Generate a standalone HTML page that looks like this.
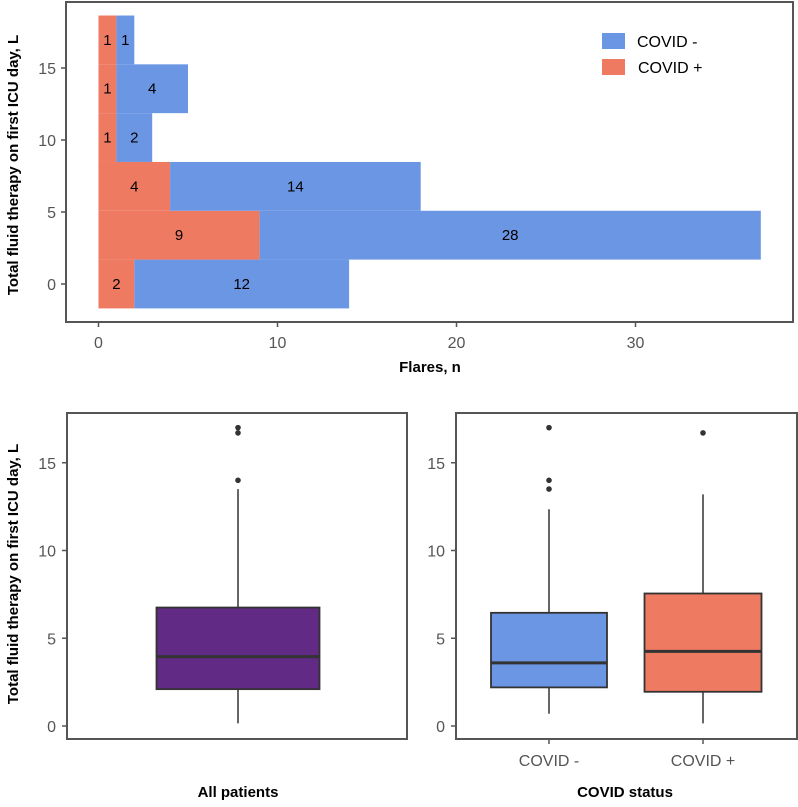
<!DOCTYPE html>
<html><head><meta charset="utf-8"><style>
body{margin:0;background:#fff}
svg text{font-family:"Liberation Sans",Arial,sans-serif}
.tk{fill:#555;font-size:16px}
.tt{fill:#000;font-size:15px;font-weight:bold}
</style></head><body>
<svg id="c" width="798" height="802" xmlns="http://www.w3.org/2000/svg"></svg>
<script>
// Top histogram data
const binCenters=[0,3.39,6.78,10.17,13.56,16.95];
const covidPos=[2,9,4,1,1,1];
const covidNeg=[12,28,14,2,4,1];
const xTicks=[0,10,20,30];
const yTicks=[0,5,10,15];
// Box plot data (min, q1, median, q3, max)
const boxGroups=["All patients","COVID -","COVID +"];
const boxMin=[0.15,0.7,0.15];
const boxQ1=[2.1,2.2,1.95];
const boxMed=[3.95,3.6,4.25];
const boxQ3=[6.75,6.45,7.55];
const boxMax=[13.5,12.35,13.2];
const outAll=[14,16.7,17];
const outNeg=[13.5,14,17];
const outPos=[16.7];

const svg=document.getElementById('c');
const NS='http://www.w3.org/2000/svg';
function mk(tag,attrs,parent){const e=document.createElementNS(NS,tag);for(const k in attrs)e.setAttribute(k,attrs[k]);(parent||svg).appendChild(e);return e;}
function txt(s,attrs){const e=mk('text',attrs);e.textContent=s;return e;}

// ---- top panel ----
const tx=v=>98.5+v*17.9, ty=v=>284-v*14.4, binH=3.39*14.4;
binCenters.forEach((c,i)=>{
  const y0=ty(c)-binH/2;
  let r=mk('rect',{x:tx(0),y:y0,width:tx(covidPos[i])-tx(0),height:binH,fill:'#ef7a62'});
  
  
  let b=mk('rect',{x:tx(covidPos[i]),y:y0,width:tx(covidPos[i]+covidNeg[i])-tx(covidPos[i]),height:binH,fill:'#6b96e4'});
  
  
  let l1=txt(covidPos[i],{x:(tx(0)+tx(covidPos[i]))/2,y:ty(c)+5,'text-anchor':'middle','font-size':'15',fill:'#000'});
  
  
  let l2=txt(covidNeg[i],{x:(tx(covidPos[i])+tx(covidPos[i]+covidNeg[i]))/2,y:ty(c)+5,'text-anchor':'middle','font-size':'15',fill:'#000'});
  
  
});
let f1=mk('rect',{x:66,y:2,width:727,height:320,fill:'none',stroke:'#555','stroke-width':2});


xTicks.forEach(v=>{
  mk('line',{x1:tx(v),x2:tx(v),y1:322,y2:327,stroke:'#555','stroke-width':1.5});
  let t=txt(v,{x:tx(v),y:348,'text-anchor':'middle',class:'tk'});
  
  
});
yTicks.forEach(v=>{
  mk('line',{x1:61,x2:66,y1:ty(v),y2:ty(v),stroke:'#555','stroke-width':1.5});
  let t=txt(v,{x:56,y:ty(v)+6,'text-anchor':'end',class:'tk'});
  
  
});
let xt=txt('Flares, n',{x:430,y:372,'text-anchor':'middle',class:'tt'});


let yt=txt('Total fluid therapy on first ICU day, L',{transform:'translate(18,165) rotate(-90)','text-anchor':'middle',class:'tt'});


// legend
let lg1=mk('rect',{x:602,y:33,width:23,height:16,fill:'#6b96e4'});


let lg2=mk('rect',{x:602,y:59,width:23,height:16,fill:'#ef7a62'});


let lt1=txt('COVID -',{x:637,y:47,'font-size':'16',fill:'#000'});


let lt2=txt('COVID +',{x:638,y:73,'font-size':'16',fill:'#000'});



// ---- bottom panels ----
const by=v=>726-v*17.55;
const panels=[{x0:67,x1:407},{x0:456,x1:797}];
panels.forEach((p,i)=>{
  let f=mk('rect',{x:p.x0,y:413,width:p.x1-p.x0,height:326,fill:'none',stroke:'#555','stroke-width':2});
  
  
  yTicks.forEach(v=>{
    mk('line',{x1:p.x0-5,x2:p.x0,y1:by(v),y2:by(v),stroke:'#555','stroke-width':1.5});
    let t=txt(v,{x:p.x0-11,y:by(v)+6,'text-anchor':'end',class:'tk'});
    
    
  });
});
const boxCx=[238,549,703], boxHW=[81.5,58,58.5];
const fills=['#612a84','#6b96e4','#ef7a62'];
const outs=[outAll,outNeg,outPos];
boxGroups.forEach((g,i)=>{
  const cx=boxCx[i],hw=boxHW[i];
  mk('line',{x1:cx,x2:cx,y1:by(boxMin[i]),y2:by(boxMax[i]),stroke:'#333','stroke-width':1.5});
  let b=mk('rect',{x:cx-hw,y:by(boxQ3[i]),width:2*hw,height:by(boxQ1[i])-by(boxQ3[i]),fill:fills[i],stroke:'#333','stroke-width':1.8});
  
  
  let m=mk('line',{x1:cx-hw,x2:cx+hw,y1:by(boxMed[i]),y2:by(boxMed[i]),stroke:'#333','stroke-width':3});
  
  
  outs[i].forEach(v=>{
    let o=mk('circle',{cx:cx,cy:by(v),r:2.8,fill:'#333'});
    
    
  });
});
[549,703].forEach((x,i)=>{
  mk('line',{x1:x,x2:x,y1:739,y2:744,stroke:'#555','stroke-width':1.5});
  let t=txt(boxGroups[i+1],{x:x,y:766,'text-anchor':'middle',class:'tk','font-size':'16'});
  
  
});
let ap=txt('All patients',{x:238,y:797,'text-anchor':'middle',class:'tt'});


let cs=txt('COVID status',{x:625,y:797,'text-anchor':'middle',class:'tt'});


let yb=txt('Total fluid therapy on first ICU day, L',{transform:'translate(18,574) rotate(-90)','text-anchor':'middle',class:'tt'});


</script>
</body></html>
